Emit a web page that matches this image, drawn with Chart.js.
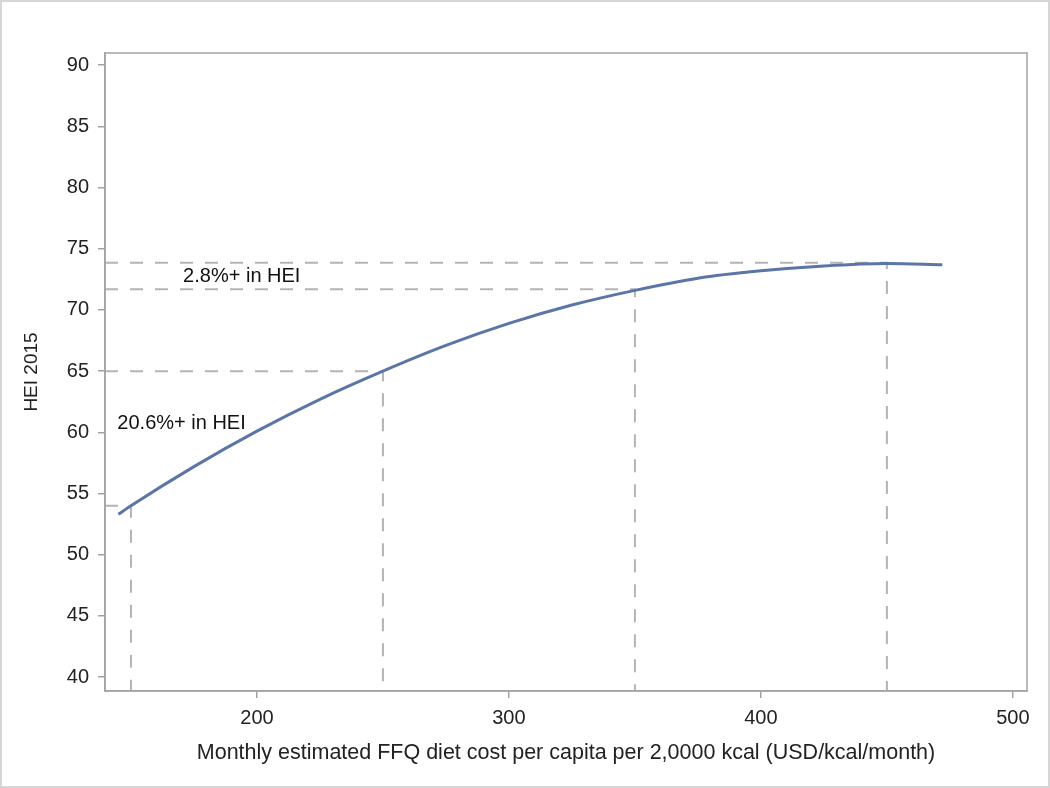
<!DOCTYPE html>
<html>
<head>
<meta charset="utf-8">
<script src="https://cdn.jsdelivr.net/npm/chart.js@4.4.1/dist/chart.umd.min.js"></script>
<style>
  html, body { margin: 0; padding: 0; background: #fff; }
  #wrap { position: relative; width: 1050px; height: 788px; box-sizing: border-box; border: 2px solid #d6d6d6; }
  canvas { position: absolute; left: -2px; top: -2px; }
</style>
</head>
<body>
<div id="wrap"><canvas id="c" width="1050" height="788"></canvas></div>
<script>
// ---- data ----
const costX = [145, 150, 175, 200, 225, 250, 275, 300, 325, 350, 375, 400, 425, 450, 472];
const heiY  = [53.3, 54.0, 57.2, 60.1, 62.7, 65.0, 67.1, 68.9, 70.4, 71.6, 72.6, 73.2, 73.6, 73.8, 73.7];

const refX = [150, 250, 350, 450];
const refY = [54.0, 65.0, 71.7, 73.85];

const xTicks = [200, 300, 400, 500];
const yTicks = [40, 45, 50, 55, 60, 65, 70, 75, 80, 85, 90];

const annoText = ['2.8%+ in HEI', '20.6%+ in HEI'];
const annoX = [170.7, 144.6];
const annoY = [72.7, 60.7];

const X_MIN = 139.7, X_MAX = 505.6;
const Y_MIN = 38.86, Y_MAX = 91.0;

const FONT = '"Liberation Sans", Arial, sans-serif';
const AXIS_GRAY = '#a3a3a3';

const datasets = [];
refX.forEach((x, i) => {
  datasets.push({
    data: [{x: X_MIN, y: refY[i]}, {x: x, y: refY[i]}, {x: x, y: Y_MIN}],
    borderColor: '#b4b4b4',
    borderWidth: 2,
    borderDash: [13, 12],
    pointRadius: 0,
    fill: false,
    tension: 0,
    order: 2
  });
});
datasets.push({
  data: costX.map((x, i) => ({x: x, y: heiY[i]})),
  borderColor: '#5b75a6',
  borderWidth: 3,
  pointRadius: 0,
  fill: false,
  tension: 0.4,
  cubicInterpolationMode: 'monotone',
  order: 1
});

const framePlugin = {
  id: 'frame',
  afterDraw(chart) {
    const {ctx, chartArea: a, scales} = chart;
    ctx.save();
    ctx.strokeStyle = AXIS_GRAY;
    ctx.lineWidth = 1.5;
    ctx.strokeRect(a.left, a.top, a.right - a.left, a.bottom - a.top);
    ctx.fillStyle = '#111';
    ctx.font = '20px ' + FONT;
    ctx.textBaseline = 'middle';
    ctx.textAlign = 'left';
    annoText.forEach((t, i) => {
      ctx.fillText(t, scales.x.getPixelForValue(annoX[i]), scales.y.getPixelForValue(annoY[i]));
    });
    ctx.restore();
  }
};

new Chart(document.getElementById('c'), {
  type: 'line',
  data: { datasets },
  plugins: [framePlugin],
  options: {
    responsive: false,
    animation: false,
    events: [],
    layout: { padding: { top: 53, right: 23, left: 0, bottom: 0 } },
    plugins: { legend: { display: false }, tooltip: { enabled: false } },
    scales: {
      x: {
        type: 'linear',
        min: X_MIN, max: X_MAX,
        afterBuildTicks: s => { s.ticks = xTicks.map(v => ({value: v})); },
        afterFit: s => { s.height = 788 - 691; },
        grid: { drawOnChartArea: false, drawTicks: true, tickLength: 7, color: AXIS_GRAY, lineWidth: 1.5 },
        border: { display: true, color: AXIS_GRAY, width: 1.5 },
        ticks: { color: '#222', font: { family: FONT, size: 20 }, padding: 8, maxRotation: 0 },
        title: {
          display: true,
          text: 'Monthly estimated FFQ diet cost per capita per 2,0000 kcal (USD/kcal/month)',
          color: '#222', font: { family: FONT, size: 21.5 }, padding: { top: 0, bottom: 22 }
        }
      },
      y: {
        type: 'linear',
        min: Y_MIN, max: Y_MAX,
        afterBuildTicks: s => { s.ticks = yTicks.map(v => ({value: v})); },
        afterFit: s => { s.width = 105; },
        grid: { drawOnChartArea: false, drawTicks: true, tickLength: 7, color: AXIS_GRAY, lineWidth: 1.5 },
        border: { display: true, color: AXIS_GRAY, width: 1.5 },
        ticks: { color: '#222', font: { family: FONT, size: 20 }, padding: 9 },
        title: {
          display: true, text: 'HEI 2015',
          color: '#222', font: { family: FONT, size: 19 }, padding: { top: 20, bottom: 0 }
        }
      }
    }
  }
});
</script>
</body>
</html>
